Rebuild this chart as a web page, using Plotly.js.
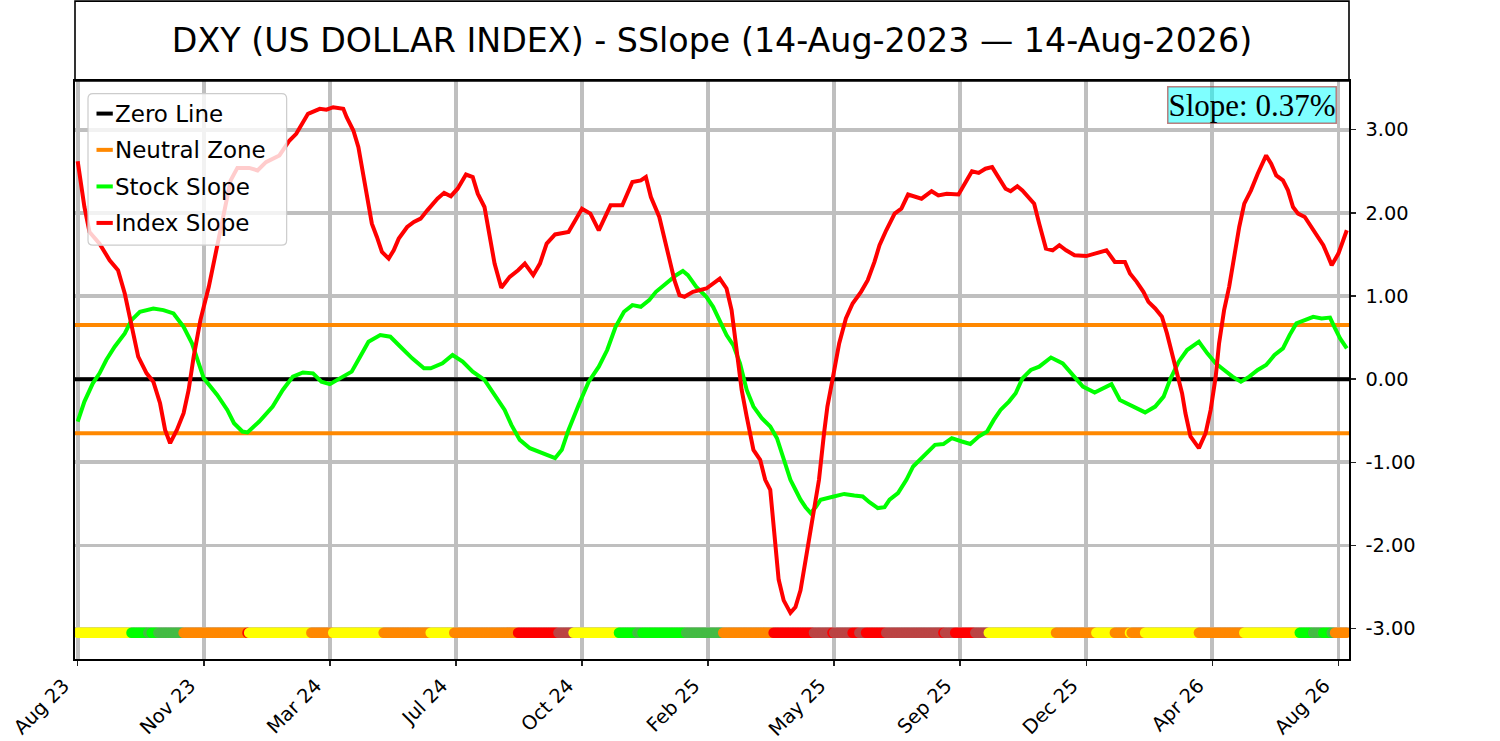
<!DOCTYPE html>
<html>
<head>
<meta charset="utf-8">
<script src="https://cdn.plot.ly/plotly-3.0.1.min.js"></script>
<style>
  html, body { margin: 0; padding: 0; background: #ffffff; }
  #chart { width: 1500px; height: 741px; }
</style>
</head>
<body>
<div id="chart"></div>
<script>
// ---------------- DATA ----------------
const chartTitle = "DXY (US DOLLAR INDEX) - SSlope (14-Aug-2023 \u2014 14-Aug-2026)";
const nPoints = 756; // trading-day positions 0..755

const xTickVals = [0, 75, 150, 225, 300, 375, 450, 525, 600, 675, 750];
const xTickText = ["Aug 23", "Nov 23", "Mar 24", "Jul 24", "Oct 24", "Feb 25",
                   "May 25", "Sep 25", "Dec 25", "Apr 26", "Aug 26"];
const yTickVals = [-3, -2, -1, 0, 1, 2, 3];

const zeroLevel = 0;
const neutralLevel = 0.65;
const stripLevel = -3.05;
const slopeValue = 0.37;

// Index Slope (red): [trading-day position, value]
const indexSlope = [
  [0,2.62],[4,2.07],[7,1.77],[13,1.63],[19,1.43],[24,1.31],[28,1.03],[32,0.63],[36,0.27],
  [41,0.07],[45,-0.03],[49,-0.29],[52,-0.61],[55,-0.77],[59,-0.61],[63,-0.41],[66,-0.13],
  [69,0.27],[73,0.71],[78,1.11],[82,1.51],[85,1.83],[88,2.11],[91,2.39],[95,2.54],[102,2.54],
  [107,2.51],[112,2.61],[120,2.69],[126,2.87],[130,2.95],[137,3.19],[144,3.25],[148,3.24],
  [152,3.27],[158,3.25],[160,3.15],[164,2.99],[167,2.79],[170,2.43],[173,2.07],[175,1.87],
  [178,1.71],[181,1.53],[185,1.45],[188,1.55],[191,1.69],[196,1.83],[200,1.89],[204,1.93],
  [208,2.03],[214,2.17],[218,2.24],[222,2.20],[226,2.29],[231,2.46],[235,2.43],[238,2.23],
  [242,2.07],[245,1.75],[248,1.39],[252,1.10],[257,1.23],[262,1.31],[266,1.39],[271,1.25],
  [275,1.39],[279,1.63],[284,1.74],[292,1.77],[297,1.95],[300,2.05],[305,1.99],[310,1.79],
  [317,2.09],[324,2.09],[330,2.37],[335,2.39],[338,2.43],[341,2.19],[346,1.95],[349,1.69],
  [352,1.47],[355,1.19],[358,1.01],[361,0.99],[366,1.05],[374,1.09],[382,1.21],[386,1.09],
  [389,0.83],[392,0.39],[395,-0.13],[398,-0.45],[402,-0.85],[406,-0.97],[409,-1.21],
  [412,-1.33],[415,-2.05],[417,-2.41],[420,-2.66],[424,-2.81],[427,-2.74],[430,-2.54],
  [433,-2.18],[437,-1.69],[441,-1.21],[444,-0.65],[446,-0.33],[449,-0.01],[453,0.43],
  [457,0.73],[461,0.91],[466,1.05],[470,1.19],[474,1.41],[477,1.61],[481,1.79],[486,1.99],
  [490,2.05],[494,2.22],[502,2.17],[508,2.26],[512,2.21],[517,2.23],[524,2.22],[528,2.37],
  [532,2.50],[536,2.48],[540,2.53],[544,2.55],[548,2.41],[552,2.29],[555,2.26],[559,2.32],
  [562,2.27],[566,2.17],[569,2.11],[572,1.87],[576,1.57],[580,1.55],[584,1.61],[588,1.55],
  [593,1.49],[600,1.48],[606,1.52],[612,1.55],[617,1.41],[623,1.41],[626,1.27],[630,1.17],
  [634,1.05],[637,0.93],[641,0.85],[645,0.75],[648,0.55],[651,0.31],[654,0.07],[657,-0.17],
  [659,-0.41],[662,-0.69],[667,-0.83],[671,-0.65],[674,-0.37],[677,0.03],[679,0.43],
  [682,0.83],[685,1.11],[688,1.47],[691,1.83],[694,2.11],[698,2.27],[702,2.47],[707,2.69],
  [710,2.59],[713,2.45],[717,2.39],[720,2.27],[723,2.07],[726,1.99],[730,1.95],[734,1.83],
  [737,1.73],[741,1.61],[744,1.47],[746,1.37],[750,1.51],[755,1.79]
];

// Stock Slope (green): [trading-day position, value]
const stockSlope = [
  [0,-0.51],[4,-0.27],[9,-0.05],[13,0.07],[17,0.23],[22,0.39],[28,0.55],[32,0.71],[37,0.81],
  [45,0.85],[51,0.83],[57,0.79],[63,0.63],[68,0.43],[72,0.19],[75,0.01],[83,-0.19],[89,-0.37],
  [93,-0.53],[98,-0.63],[101,-0.64],[108,-0.51],[116,-0.33],[122,-0.13],[128,0.03],[134,0.08],
  [140,0.07],[145,-0.03],[150,-0.06],[156,0.01],[163,0.09],[168,0.27],[173,0.45],[180,0.53],
  [186,0.51],[192,0.39],[199,0.25],[206,0.13],[210,0.13],[217,0.19],[223,0.29],[229,0.21],
  [235,0.09],[242,-0.01],[248,-0.20],[254,-0.37],[258,-0.55],[263,-0.73],[269,-0.83],
  [276,-0.89],[284,-0.95],[288,-0.85],[292,-0.61],[298,-0.31],[304,-0.03],[310,0.15],
  [315,0.35],[320,0.63],[325,0.81],[330,0.89],[335,0.87],[340,0.95],[344,1.05],[350,1.15],
  [356,1.25],[360,1.30],[363,1.25],[368,1.11],[374,0.99],[378,0.87],[382,0.71],[386,0.53],
  [390,0.41],[394,0.19],[398,-0.13],[402,-0.33],[407,-0.47],[412,-0.57],[416,-0.71],
  [420,-0.97],[424,-1.21],[427,-1.33],[430,-1.45],[433,-1.54],[436,-1.61],[439,-1.54],
  [442,-1.45],[448,-1.42],[456,-1.38],[462,-1.40],[467,-1.41],[471,-1.48],[476,-1.55],
  [480,-1.54],[483,-1.45],[488,-1.37],[493,-1.21],[497,-1.05],[503,-0.93],[510,-0.79],
  [515,-0.78],[520,-0.71],[526,-0.75],[531,-0.78],[536,-0.69],[541,-0.63],[545,-0.49],
  [549,-0.37],[554,-0.27],[558,-0.17],[562,0.01],[567,0.11],[572,0.15],[579,0.26],[586,0.19],
  [592,0.05],[598,-0.09],[605,-0.16],[610,-0.11],[615,-0.06],[620,-0.25],[626,-0.31],
  [630,-0.35],[635,-0.40],[641,-0.33],[646,-0.21],[650,0.00],[655,0.21],[660,0.35],[667,0.45],
  [672,0.31],[677,0.19],[682,0.11],[687,0.03],[692,-0.03],[697,0.03],[702,0.11],[707,0.17],
  [712,0.29],[717,0.37],[721,0.53],[725,0.67],[730,0.71],[735,0.75],[740,0.73],[745,0.74],
  [748,0.61],[751,0.49],[755,0.37]
];

// Signal strip: first position of each colour run, and its state
const stripStart = [0,32,42,44,48,63,101,102,139,152,182,210,224,262,286,295,322,333,336,362,
                    384,414,438,449,450,461,465,469,481,515,516,522,534,542,582,606,617,626,627,
                    635,667,694,727,735,741,746,748];
const stripState = ["yellow","lime","dkgreen","lime","dkgreen","orange","red","yellow","orange",
                    "yellow","orange","yellow","orange","red","brown","yellow","lime","dkgreen",
                    "lime","dkgreen","orange","red","brown","red","brown","red","brown","red",
                    "brown","red","brown","red","brown","yellow","orange","yellow","orange",
                    "yellow","orange","yellow","orange","yellow","lime","dkgreen","lime",
                    "dkgreen","orange"];
const stateColors = { yellow:"#ffff00", lime:"#00ff00", dkgreen:"#44bb44",
                      orange:"#ff8800", red:"#ff0000", brown:"#bb4444" };

const legendLabels = ["Zero Line", "Neutral Zone", "Stock Slope", "Index Slope"];
const legendColors = ["#000000", "#ff8800", "#00ff00", "#ff0000"];

// ---------------- BUILD ----------------
const xRange = [-1.6, 756.3];
const yRange = [-3.365, 3.585];
const FONT = "DejaVu Sans";
const LW = 4;

const stripX = [], stripColors = [];
for (let i = 0; i < nPoints; i++) {
  let k = 0;
  while (k + 1 < stripStart.length && stripStart[k + 1] <= i) k++;
  stripX.push(i);
  stripColors.push(stateColors[stripState[k]]);
}
const stripY = stripX.map(() => stripLevel);

const traces = [
  { x: xRange, y: [zeroLevel, zeroLevel], mode: "lines", name: "Zero Line",
    line: { color: "#000000", width: LW }, hoverinfo: "skip" },
  { x: xRange, y: [neutralLevel, neutralLevel], mode: "lines", name: "Neutral Zone",
    line: { color: "#ff8800", width: LW }, hoverinfo: "skip" },
  { x: xRange, y: [-neutralLevel, -neutralLevel], mode: "lines", name: "Neutral Zone",
    line: { color: "#ff8800", width: LW }, hoverinfo: "skip" },
  { x: stockSlope.map(p => p[0]), y: stockSlope.map(p => p[1]), mode: "lines",
    name: "Stock Slope", line: { color: "#00ff00", width: LW } },
  { x: indexSlope.map(p => p[0]), y: indexSlope.map(p => p[1]), mode: "lines",
    name: "Index Slope", line: { color: "#ff0000", width: LW } },
  { x: stripX, y: stripY, mode: "markers", name: "Signal",
    marker: { color: stripColors, size: 10.5, line: { width: 0 } }, hoverinfo: "skip" }
];

// layout helpers (pixel -> paper)
const M = { l: 75, r: 150.7, t: 80.7, b: 82 };
const PW = 1500 - M.l - M.r, PH = 741 - M.t - M.b;
const px = x => (x - M.l) / PW;
const py = y => (741 - M.b - y) / PH;

const shapes = [];
// Title box
shapes.push({ type: "rect", xref: "paper", yref: "paper", x0: 0, x1: 1, y0: 1, y1: py(0.8),
  line: { color: "#000000", width: 1.6 }, fillcolor: "rgba(0,0,0,0)", layer: "above" });
// Legend frame (rounded)
(function () {
  const L = px(88), R = px(286.7), T = py(93.3), B = py(245);
  const rx = 5 / PW, ry = 5 / PH;
  const path = `M ${L + rx},${T} L ${R - rx},${T} Q ${R},${T} ${R},${T - ry} ` +
               `L ${R},${B + ry} Q ${R},${B} ${R - rx},${B} L ${L + rx},${B} ` +
               `Q ${L},${B} ${L},${B + ry} L ${L},${T - ry} Q ${L},${T} ${L + rx},${T} Z`;
  shapes.push({ type: "path", xref: "paper", yref: "paper", path: path,
    fillcolor: "rgba(255,255,255,0.8)", line: { color: "#cccccc", width: 1.2 }, layer: "above" });
})();
const legendRowY = [113.3, 149.6, 186.2, 222.7];
const annotations = [];
legendLabels.forEach((lab, i) => {
  shapes.push({ type: "line", xref: "paper", yref: "paper",
    x0: px(96.5), x1: px(112.8), y0: py(legendRowY[i]), y1: py(legendRowY[i]),
    line: { color: legendColors[i], width: LW }, layer: "above" });
  annotations.push({ xref: "paper", yref: "paper", x: px(113.5), y: py(legendRowY[i] + 0.5),
    xanchor: "left", yanchor: "middle", showarrow: false, text: lab,
    font: { family: FONT, size: 23, color: "#000000" } });
});
// Slope box
annotations.push({ xref: "paper", yref: "paper", x: px(1337.7), y: py(86),
  xanchor: "right", yanchor: "top", showarrow: false,
  text: "Slope: " + slopeValue.toFixed(2) + "%",
  font: { family: "Liberation Serif", size: 31, color: "#000000" },
  bgcolor: "rgba(0,255,255,0.5)", bordercolor: "rgba(165,42,42,0.6)", borderwidth: 1.5, borderpad: 0 });

const layout = {
  width: 1500, height: 741,
  margin: { l: M.l, r: M.r, t: M.t, b: M.b, pad: 0 },
  paper_bgcolor: "#ffffff", plot_bgcolor: "#ffffff",
  showlegend: false,
  title: { text: chartTitle, font: { family: FONT, size: 33.3, color: "#000000" },
           xref: "paper", x: 0.5, xanchor: "center",
           yref: "container", y: 1 - 40.5 / 741, yanchor: "middle" },
  xaxis: {
    range: xRange, tickmode: "array", tickvals: xTickVals, ticktext: xTickText,
    tickangle: -45, ticks: "outside", ticklen: 5, tickwidth: 1.5, tickcolor: "#222222",
    ticklabelshift: -14, ticklabelstandoff: 1,
    tickfont: { family: FONT, size: 19.4, color: "#000000" },
    showgrid: true, gridcolor: "#bfbfbf", gridwidth: 3.8,
    showline: true, linecolor: "#000000", linewidth: 1.6, mirror: true, zeroline: false
  },
  yaxis: {
    range: yRange, side: "right", tickmode: "array", tickvals: yTickVals,
    ticktext: yTickVals.map(v => v.toFixed(2)),
    ticks: "outside", ticklen: 5, tickwidth: 1.5, tickcolor: "#222222",
    ticklabelstandoff: 6,
    tickfont: { family: FONT, size: 19.4, color: "#000000" },
    showgrid: true, gridcolor: "#bfbfbf", gridwidth: 3.8,
    showline: true, linecolor: "#000000", linewidth: 1.6, mirror: true, zeroline: false
  },
  shapes: shapes,
  annotations: annotations
};

Plotly.newPlot("chart", traces, layout, { displayModeBar: false, staticPlot: true });
</script>
</body>
</html>
